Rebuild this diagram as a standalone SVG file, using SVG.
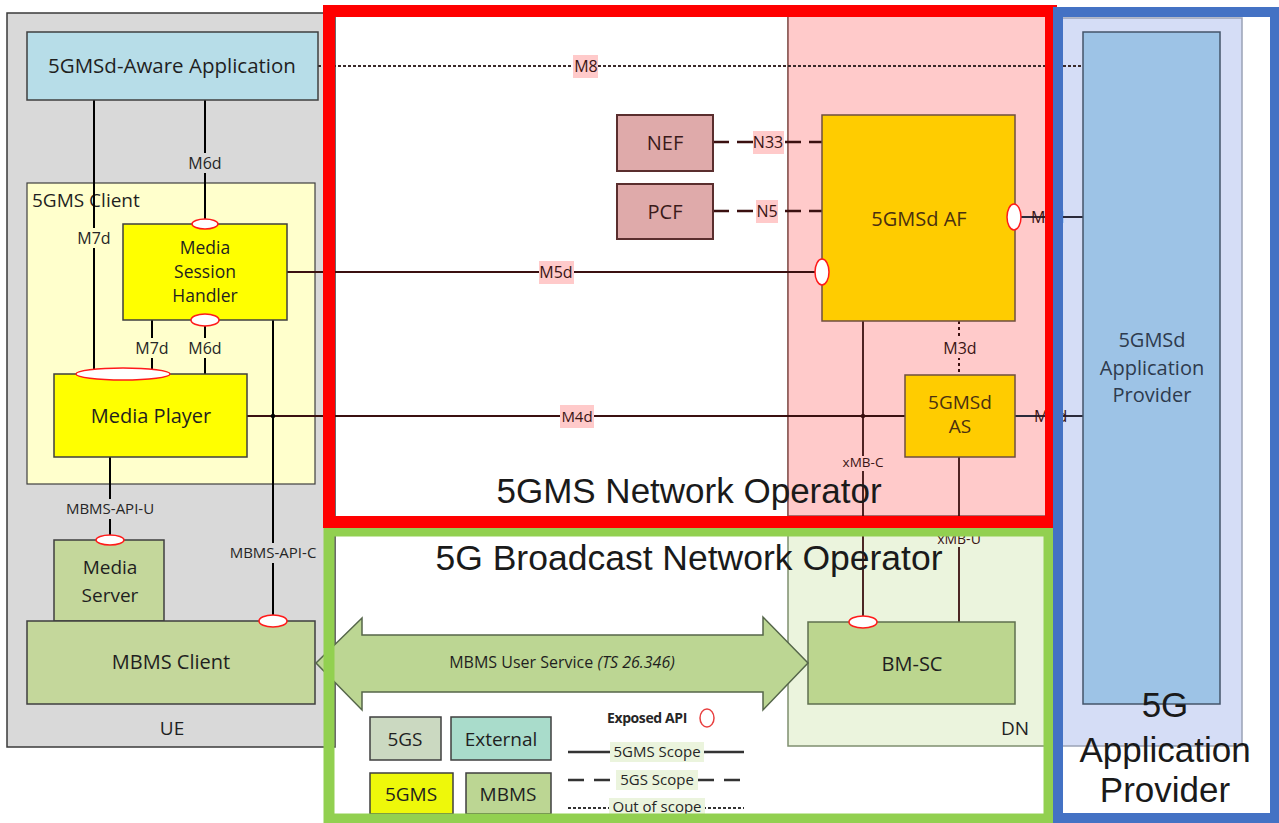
<svg xmlns="http://www.w3.org/2000/svg" width="1279" height="823" viewBox="0 0 1279 823">
<style>
.t{font-family:"Open Sans","Noto Sans",sans-serif;fill:#1f1f1f;text-anchor:middle}
.n20{font-size:20px}
.n19{font-size:19px}
.lb{font-family:"Open Sans","Noto Sans",sans-serif;font-size:16px;fill:#262626;text-anchor:middle}
.lr{font-family:"Open Sans","Noto Sans",sans-serif;font-size:16px;fill:#3a1414;text-anchor:middle}
.big{font-family:"Liberation Sans",Arial,sans-serif;font-size:35px;fill:#1a1a1a;text-anchor:middle}
.api{fill:#fff;stroke:#ff1a1a;stroke-width:1.5}
.blk{stroke:#000;stroke-width:2;fill:none}
.brn{stroke:#3a1010;stroke-width:1.8;fill:none}
</style>
<rect width="1279" height="823" fill="#fff"/>
<!-- zones -->
<g id="ue-zone">
<rect x="7" y="13" width="328" height="734" fill="#d9d9d9" stroke="#3a3a3a" stroke-width="1.5"/>
<text class="t n19" x="172" y="735">UE</text>
</g>
<g id="dn-zone">
<rect x="788" y="13" width="262" height="733" fill="#ebf4dd" stroke="#7f8f6f" stroke-width="1.5"/>
<rect x="788" y="13" width="258" height="503" fill="#ffcaca" stroke="#8a4f4f" stroke-width="1.5"/>
<text class="t n19" x="1015" y="735">DN</text>
</g>
<g id="ap-zone">
<rect x="1062" y="18" width="180" height="728" fill="#d5ddf6" stroke="#9aa2b6" stroke-width="1.5"/>
</g>
<g id="client-zone">
<rect x="27" y="183" width="288" height="301" fill="#ffffcc" stroke="#3f3f3f" stroke-width="1.2"/>
<text class="t n19" x="32" y="207" style="text-anchor:start">5GMS Client</text>
</g>
<!-- connectors -->
<g id="connectors">
<line class="blk" x1="94" y1="100" x2="94" y2="369"/>
<line class="blk" x1="205" y1="100" x2="205" y2="220"/>
<line class="blk" x1="152" y1="320" x2="152" y2="369"/>
<line class="blk" x1="205" y1="326" x2="205" y2="374"/>
<line class="blk" x1="273" y1="320" x2="273" y2="616"/>
<line class="blk" x1="110" y1="457" x2="110" y2="535"/>
<line class="brn" x1="287" y1="272" x2="816" y2="272" stroke-width="2.4"/>
<line class="brn" x1="247" y1="416" x2="905" y2="416" stroke-width="1.8"/>
<circle cx="273" cy="416" r="2.2" fill="#000"/>
<circle cx="863" cy="416" r="2.2" fill="#3a1010"/>
<line x1="318" y1="66" x2="1083" y2="66" stroke="#3a2a2a" stroke-width="2" stroke-dasharray="3 2"/>
<line x1="713" y1="142" x2="822" y2="142" stroke="#3a1010" stroke-width="2.5" stroke-dasharray="16 8"/>
<line x1="713" y1="211" x2="822" y2="211" stroke="#3a1010" stroke-width="2.5" stroke-dasharray="16 8"/>
<line x1="1021" y1="217" x2="1083" y2="217" stroke="#2a2a3a" stroke-width="1.8"/>
<line x1="1015" y1="416" x2="1083" y2="416" stroke="#2a2a3a" stroke-width="1.8"/>
<line x1="959" y1="321" x2="959" y2="375" stroke="#3a1010" stroke-width="2" stroke-dasharray="3 3"/>
<line class="brn" x1="863" y1="321" x2="863" y2="616"/>
<line class="brn" x1="959" y1="457" x2="959" y2="622"/>
<!-- labels -->
<rect x="188" y="153" width="34" height="20" fill="#d9d9d9"/>
<text class="lb" x="205" y="169">M6d</text>
<rect x="77" y="228" width="34" height="20" fill="#ffffcc"/>
<text class="lb" x="94" y="244">M7d</text>
<rect x="135" y="338" width="34" height="20" fill="#ffffcc"/>
<text class="lb" x="152" y="354">M7d</text>
<rect x="188" y="338" width="34" height="20" fill="#ffffcc"/>
<text class="lb" x="205" y="354">M6d</text>
<rect x="60" y="499" width="100" height="20" fill="#d9d9d9"/>
<text class="lb" x="110" y="514" style="font-size:15px">MBMS-API-U</text>
<rect x="224" y="543" width="98" height="20" fill="#d9d9d9"/>
<text class="lb" x="273" y="558" style="font-size:15px">MBMS-API-C</text>
<rect x="573" y="55" width="25" height="23" fill="#ffcaca"/>
<text class="lr" x="586" y="72">M8</text>
<rect x="753" y="131" width="31" height="23" fill="#ffcaca"/>
<text class="lr" x="768" y="148">N33</text>
<rect x="756" y="200" width="22" height="23" fill="#ffcaca"/>
<text class="lr" x="767" y="217">N5</text>
<rect x="539" y="261" width="35" height="23" fill="#ffcaca"/>
<text class="lr" x="556" y="278">M5d</text>
<rect x="560" y="405" width="34" height="23" fill="#ffcaca"/>
<text class="lr" x="577" y="422" style="font-size:15px">M4d</text>
<rect x="941" y="338" width="38" height="20" fill="#ffcaca"/>
<text class="lr" x="960" y="354">M3d</text>
<rect x="840" y="456" width="46" height="15" fill="#ffcaca"/>
<text class="lr" x="863" y="467" style="font-size:13.5px">xMB-C</text>
<rect x="936" y="530" width="47" height="17" fill="#ebf4dd"/>
<text class="lr" x="959" y="544" style="font-size:14px">xMB-U</text>
<text class="lr" x="1031" y="223" style="text-anchor:start;font-size:16px">M1d</text>
<text class="lr" x="1034" y="422" style="text-anchor:start;font-size:16px">M2d</text>
</g>
<!-- nodes -->
<g id="aware-app">
<rect x="27" y="32" width="291" height="68" fill="#b7dde8" stroke="#3f3f3f" stroke-width="1.5"/>
<text class="t" x="172" y="73" style="font-size:20.5px">5GMSd-Aware Application</text>
</g>
<g id="msh">
<rect x="123" y="224" width="164" height="96" fill="#ffff00" stroke="#3f3f3f" stroke-width="1.5"/>
<text class="t" x="205" y="254" style="font-size:17.5px">Media</text>
<text class="t" x="205" y="278" style="font-size:17.5px">Session</text>
<text class="t" x="205" y="302" style="font-size:17.5px">Handler</text>
<ellipse class="api" cx="205" cy="224" rx="13" ry="5"/>
<ellipse class="api" cx="205" cy="320" rx="14" ry="6"/>
</g>
<g id="media-player">
<rect x="54" y="374" width="193" height="83" fill="#ffff00" stroke="#3f3f3f" stroke-width="1.5"/>
<text class="t n20" x="151" y="423">Media Player</text>
<ellipse class="api" cx="123" cy="374" rx="47" ry="6"/>
</g>
<g id="media-server">
<rect x="54" y="540" width="110" height="81" fill="#c4d79b" stroke="#3f3f3f" stroke-width="1.5"/>
<text class="t n19" x="110" y="574">Media</text>
<text class="t n19" x="110" y="602">Server</text>
<ellipse class="api" cx="110" cy="540" rx="14" ry="5"/>
</g>
<g id="mbms-client">
<rect x="27" y="621" width="288" height="83" fill="#c4d79b" stroke="#3f3f3f" stroke-width="1.5"/>
<text class="t n20" x="171" y="669">MBMS Client</text>
<ellipse class="api" cx="273" cy="621" rx="14" ry="6"/>
</g>
<g id="nef">
<rect x="617" y="115" width="96" height="56" fill="#dfaaaa" stroke="#5a2e2e" stroke-width="2"/>
<text class="t n20" x="665" y="150" style="fill:#3a1a1a">NEF</text>
</g>
<g id="pcf">
<rect x="617" y="184" width="96" height="55" fill="#dfaaaa" stroke="#5a2e2e" stroke-width="2"/>
<text class="t n20" x="665" y="219" style="fill:#3a1a1a">PCF</text>
</g>
<g id="af">
<rect x="822" y="115" width="193" height="206" fill="#ffcc00" stroke="#6f4f3f" stroke-width="1.5"/>
<text class="t n20" x="919" y="226" style="fill:#4a3010">5GMSd AF</text>
<ellipse class="api" cx="822" cy="272" rx="7" ry="13"/>
<ellipse class="api" cx="1014" cy="217" rx="7" ry="13"/>
</g>
<g id="as">
<rect x="905" y="375" width="110" height="82" fill="#ffcc00" stroke="#6f4f3f" stroke-width="1.5"/>
<text class="t n19" x="960" y="409" style="fill:#4a3010">5GMSd</text>
<text class="t n19" x="960" y="433" style="fill:#4a3010">AS</text>
</g>
<g id="bmsc">
<rect x="808" y="622" width="207" height="82" fill="#bcd68f" stroke="#5f6f4f" stroke-width="1.5"/>
<text class="t n20" x="912" y="671">BM-SC</text>
<ellipse class="api" cx="863" cy="622" rx="14" ry="6"/>
</g>
<g id="app-provider">
<rect x="1083" y="32" width="137" height="672" fill="#9dc3e6" stroke="#44546a" stroke-width="1.5"/>
<text class="t n20" x="1152" y="347" style="fill:#2e3b4e">5GMSd</text>
<text class="t n20" x="1152" y="375" style="fill:#2e3b4e">Application</text>
<text class="t n20" x="1152" y="402" style="fill:#2e3b4e">Provider</text>
</g>
<g id="user-service">
<polygon points="316,663 362,618 362,635 763,635 763,617 808,663 763,710 763,692 362,692 362,710" fill="#bcd693" stroke="#55664a" stroke-width="1.5"/>
<text class="t" x="562" y="668" style="font-size:16px">MBMS User Service <tspan font-style="italic">(TS 26.346)</tspan></text>
</g>
<!-- legend -->
<g id="legend">
<rect x="370" y="717" width="71" height="43" fill="#cbd9c1" stroke="#3f3f3f" stroke-width="1.5"/>
<text class="t n19" x="405" y="746">5GS</text>
<rect x="451" y="717" width="100" height="43" fill="#a9dccb" stroke="#3f3f3f" stroke-width="1.5"/>
<text class="t n19" x="501" y="746">External</text>
<rect x="370" y="773" width="83" height="41" fill="#eef80a" stroke="#3f3f3f" stroke-width="1.5"/>
<text class="t n19" x="411" y="801">5GMS</text>
<rect x="466" y="773" width="85" height="41" fill="#bcd693" stroke="#3f3f3f" stroke-width="1.5"/>
<text class="t n19" x="508" y="801">MBMS</text>
<text x="607" y="723" style="font-family:'Open Sans','Noto Sans',sans-serif;font-size:14px;font-weight:bold;fill:#262626;letter-spacing:-0.4px">Exposed API</text>
<ellipse cx="707" cy="718" rx="7" ry="9" fill="none" stroke="#e84040" stroke-width="1.5"/>
<line x1="568" y1="752" x2="744" y2="752" stroke="#333" stroke-width="2.5"/>
<line x1="568" y1="780" x2="744" y2="780" stroke="#333" stroke-width="2.5" stroke-dasharray="16 10"/>
<line x1="568" y1="808" x2="744" y2="808" stroke="#333" stroke-width="2" stroke-dasharray="3 2"/>
<rect x="610" y="742" width="94" height="20" fill="#ebf4dd"/>
<text class="lb" x="657" y="757" style="font-size:15px">5GMS Scope</text>
<rect x="616" y="770" width="82" height="20" fill="#ebf4dd"/>
<text class="lb" x="657" y="785" style="font-size:15px">5GS Scope</text>
<rect x="609" y="798" width="96" height="19" fill="#ebf4dd"/>
<text class="lb" x="657" y="812" style="font-size:15px">Out of scope</text>
</g>
<!-- operator borders -->
<g id="borders">
<rect x="329" y="531" width="720" height="288" fill="none" stroke="#92d050" stroke-width="11"/>
<rect x="329" y="11" width="722" height="511" fill="none" stroke="#ff0000" stroke-width="12"/>
<rect x="1058" y="12" width="217" height="806" fill="none" stroke="#4472c4" stroke-width="10"/>
</g>
<g id="titles">
<text class="big" x="689" y="503">5GMS Network Operator</text>
<text class="big" x="689" y="570" style="font-size:35.5px">5G Broadcast Network Operator</text>
<text class="big" x="1165" y="717">5G</text>
<text class="big" x="1165" y="762">Application</text>
<text class="big" x="1165" y="802">Provider</text>
</g>
</svg>
